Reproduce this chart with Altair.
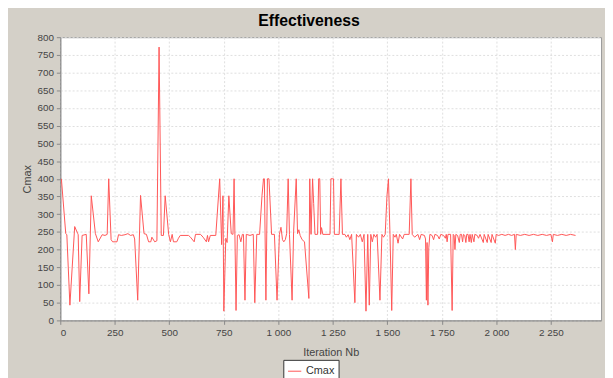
import altair as alt
import pandas as pd

# ---- data ----
iters = [5, 25, 30, 44, 66, 80, 82, 89, 100, 119, 131, 142, 161, 174, 192, 205, 215, 222, 233, 240,
         260, 267, 280, 297, 310, 322, 335, 341, 355, 368, 384, 395, 405, 415, 420, 433, 443, 453, 463, 473,
         481, 497, 505, 513, 519, 534, 542, 550, 588, 597, 614, 620, 643, 655, 670, 675, 680, 688, 713, 731,
         740, 746, 750, 759, 765, 773, 784, 792, 797, 806, 812, 820, 828, 835, 840, 847, 853, 870, 885, 892,
         901, 914, 925, 932, 936, 943, 950, 957, 969, 982, 994, 1005, 1012, 1019, 1025, 1032, 1038, 1045, 1051, 1063,
         1070, 1082, 1088, 1094, 1100, 1109, 1120, 1140, 1144, 1150, 1157, 1162, 1168, 1180, 1185, 1190, 1194, 1198, 1204, 1237,
         1241, 1253, 1257, 1279, 1287, 1294, 1305, 1312, 1320, 1328, 1336, 1351, 1358, 1368, 1376, 1385, 1393, 1402, 1410, 1417,
         1424, 1431, 1438, 1446, 1453, 1466, 1475, 1482, 1490, 1498, 1505, 1512, 1520, 1527, 1535, 1541, 1549, 1556, 1570, 1577,
         1590, 1600, 1608, 1614, 1625, 1640, 1648, 1655, 1670, 1675, 1679, 1682, 1686, 1690, 1695, 1705, 1712, 1718, 1730, 1738,
         1745, 1758, 1766, 1770, 1774, 1778, 1790, 1797, 1802, 1806, 1810, 1814, 1822, 1830, 1834, 1840, 1845, 1849, 1855, 1860,
         1864, 1870, 1875, 1879, 1885, 1889, 1897, 1901, 1912, 1918, 1925, 1940, 1944, 1958, 1962, 1976, 1980, 1995, 1999, 2010,
         2025, 2040, 2055, 2070, 2083, 2087, 2091, 2110, 2130, 2150, 2170, 2190, 2210, 2230, 2250, 2257, 2261, 2280, 2300, 2320,
         2340, 2363]
cmax = [400, 245, 242, 43, 265, 245, 242, 53, 240, 243, 75, 352, 245, 222, 242, 240, 243, 400, 228, 222,
        222, 242, 240, 242, 245, 240, 242, 230, 57, 353, 245, 243, 222, 222, 235, 222, 225, 772, 240, 240,
        352, 243, 222, 243, 222, 222, 232, 240, 240, 235, 222, 243, 243, 235, 222, 240, 222, 240, 240, 400,
        214, 352, 26, 232, 220, 352, 245, 243, 400, 28, 240, 242, 222, 243, 243, 57, 243, 240, 243, 50,
        243, 243, 352, 400, 400, 57, 400, 400, 243, 243, 57, 243, 263, 228, 222, 228, 245, 400, 243, 57,
        250, 400, 245, 256, 240, 228, 222, 62, 400, 243, 400, 330, 243, 243, 400, 400, 243, 262, 243, 243,
        400, 400, 243, 243, 400, 243, 243, 235, 242, 228, 243, 50, 243, 235, 243, 222, 243, 26, 243, 43,
        243, 222, 243, 235, 243, 57, 243, 235, 243, 350, 400, 243, 28, 243, 235, 243, 218, 243, 230, 243,
        243, 243, 400, 243, 235, 243, 228, 243, 240, 230, 57, 220, 43, 205, 243, 240, 228, 243, 240, 230,
        243, 240, 232, 243, 222, 243, 243, 28, 243, 240, 200, 243, 240, 220, 243, 243, 222, 243, 240, 220,
        243, 243, 222, 243, 220, 243, 222, 243, 240, 232, 243, 220, 243, 220, 243, 220, 243, 218, 243, 240,
        243, 240, 243, 240, 243, 200, 243, 240, 243, 240, 243, 240, 243, 240, 243, 222, 243, 240, 243, 240,
        243, 240]
series = ["Cmax"] * len(iters)

x_ticks = [0, 250, 500, 750, 1000, 1250, 1500, 1750, 2000, 2250]
y_ticks = list(range(0, 801, 50))

df = pd.DataFrame({"iter": iters, "cmax": cmax, "series": series})

FONT = "Liberation Sans"

line = alt.Chart(df).mark_line(strokeWidth=1, clip=True).encode(
    x=alt.X("iter:Q",
            scale=alt.Scale(domain=[0, 2480], nice=False, zero=False),
            axis=alt.Axis(title="Iteration Nb", values=x_ticks,
                          labelExpr="replace(format(datum.value, ','), ',', ' ')",
                          tickSize=4, labelPadding=3, titlePadding=10)),
    y=alt.Y("cmax:Q",
            scale=alt.Scale(domain=[0, 800], nice=False),
            axis=alt.Axis(title="Cmax", values=y_ticks, tickSize=4,
                          labelPadding=3, titlePadding=5)),
    color=alt.Color("series:N",
                    scale=alt.Scale(domain=["Cmax"], range=["#ff5555"]),
                    legend=alt.Legend(title=None, orient="none", legendX=226, legendY=327,
                                      direction="horizontal", symbolType="stroke",
                                      symbolSize=180, symbolStrokeWidth=1,
                                      strokeColor="#333333", fillColor="#ffffff",
                                      padding=4, labelFont=FONT, labelFontSize=11,
                                      labelColor="#333333", cornerRadius=0)),
)

chart = alt.layer(line).properties(
    width=548, height=287,
    padding={"left": 53, "top": 27, "right": 4, "bottom": 70},
    autosize=alt.AutoSizeParams(type="none"),
    background="#d4d0c8",
    title=alt.TitleParams("Effectiveness", font=FONT, fontSize=16, fontWeight="bold",
                          color="#000000", anchor="middle", frame="group", dx=-22, offset=3),
).configure_view(
    fill="#ffffff", stroke="#999999", strokeWidth=1
).configure_axis(
    labelFont=FONT, labelFontSize=10, labelColor="#444444",
    titleFont=FONT, titleFontSize=11, titleFontWeight="normal", titleColor="#444444",
    gridColor="#dedede", gridDash=[2, 2], gridWidth=1,
    domainColor="#888888", tickColor="#888888",
)

chart.save("out.html", embed_options={"renderer": "svg", "actions": False})
